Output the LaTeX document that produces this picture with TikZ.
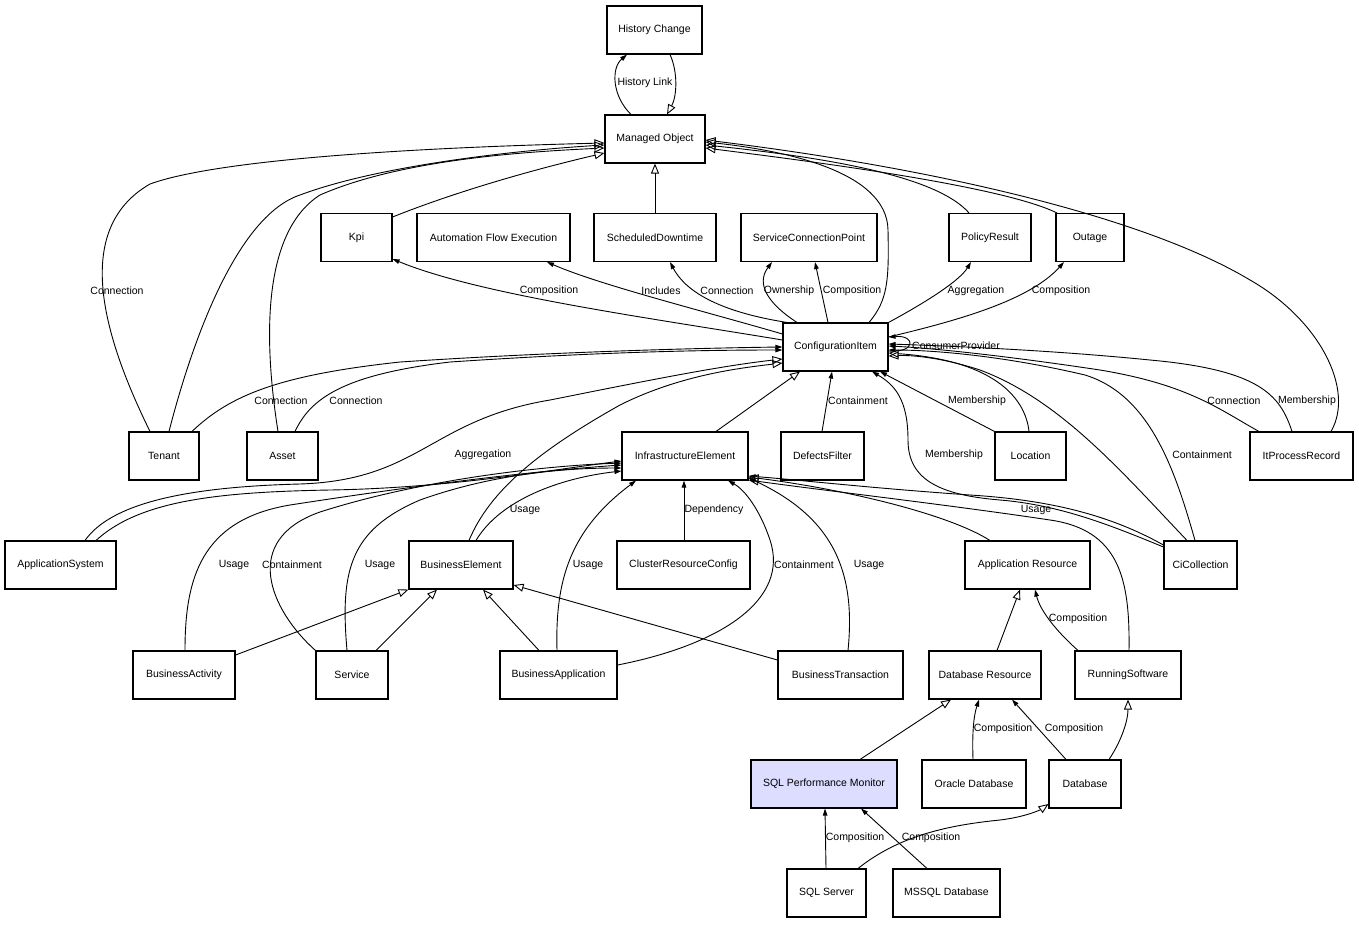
\documentclass[tikz,border=0pt]{standalone}
\usepackage{fontspec}
\setmainfont{Liberation Sans}
\usetikzlibrary{arrows.meta}
\definecolor{monitorblue}{RGB}{221,221,255}

\begin{document}
\begin{tikzpicture}[x=1pt,y=-1pt]
  \tikzstyle{box} = [draw, line width=1.1pt, minimum height=48pt, inner sep=0pt, font=\fontsize{10.5}{12}\selectfont]
  \tikzstyle{lbl} = [inner sep=0pt, font=\fontsize{10.5}{12}\selectfont]
  \tikzstyle{gen} = [line width=0.9pt, -{Triangle[open,length=10pt,width=8pt]}]
  \tikzstyle{assoc} = [line width=0.9pt, -{Triangle[length=7pt,width=4.5pt]}]

  \useasboundingbox (0,0) rectangle (1359,924);

  % classes, row by row
  \node[box, minimum width=95pt] (hc) at (654.5,30) {History Change};
  \node[box, minimum width=100pt] (mo) at (655,139) {Managed Object};

  \node[box, minimum width=71pt] (kpi) at (356.5,237.5) {Kpi};
  \node[box, minimum width=153pt] (afe) at (493.5,237.5) {Automation Flow Execution};
  \node[box, minimum width=122pt] (sd) at (655,237.5) {ScheduledDowntime};
  \node[box, minimum width=136pt] (scp) at (809,237.5) {ServiceConnectionPoint};
  \node[box, minimum width=82pt] (pr) at (990,237.5) {PolicyResult};
  \node[box, minimum width=68pt] (outage) at (1090,237.5) {Outage};

  \node[box, minimum width=105pt] (ci) at (835.5,347) {ConfigurationItem};

  \node[box, minimum width=70pt] (tenant) at (164,456) {Tenant};
  \node[box, minimum width=71pt] (asset) at (282.5,456) {Asset};
  \node[box, minimum width=126pt] (ie) at (685,456) {InfrastructureElement};
  \node[box, minimum width=83pt] (df) at (822.5,456) {DefectsFilter};
  \node[box, minimum width=71pt] (loc) at (1030.5,456) {Location};
  \node[box, minimum width=103pt] (itpr) at (1301.5,456) {ItProcessRecord};

  \node[box, minimum width=111pt] (appsys) at (60.5,565) {ApplicationSystem};
  \node[box, minimum width=104pt] (be) at (461,565) {BusinessElement};
  \node[box, minimum width=133pt] (crc) at (683.5,565) {ClusterResourceConfig};
  \node[box, minimum width=125pt] (ar) at (1027.5,565) {Application Resource};
  \node[box, minimum width=73pt] (cic) at (1200.5,565) {CiCollection};

  \node[box, minimum width=102pt] (bact) at (184,675) {BusinessActivity};
  \node[box, minimum width=72pt] (svc) at (352,675) {Service};
  \node[box, minimum width=117pt] (bapp) at (558.5,675) {BusinessApplication};
  \node[box, minimum width=125pt] (bt) at (840.5,675) {BusinessTransaction};
  \node[box, minimum width=112pt] (dr) at (985,675) {Database Resource};
  \node[box, minimum width=106pt] (rs) at (1128,675) {RunningSoftware};

  \node[box, minimum width=146pt, fill=monitorblue] (spm) at (824,784) {SQL Performance Monitor};
  \node[box, minimum width=104pt] (od) at (974,784) {Oracle Database};
  \node[box, minimum width=72pt] (db) at (1085,784) {Database};

  \node[box, minimum width=79pt] (sqls) at (826.5,893) {SQL Server};
  \node[box, minimum width=107pt] (mssql) at (946.5,893) {MSSQL Database};

  % Managed Object
  \draw[assoc] (mo.north -| 631,0) .. controls (612,96) and (611,68) .. (hc.south -| 627,0);
  \draw[gen] (hc.south -| 670,0) .. controls (678,72) and (677,96) .. (mo.north -| 667,0);
  \draw[gen] (sd) -- (mo);
  \draw[gen] (kpi.east |- 0,217) .. controls (460,190) and (540,168) .. (mo.west |- 0,153);
  \draw[gen] (tenant.north -| 150,0) .. controls (105,340) and (70,230) .. (150,184)
    .. controls (230,155) and (480,146) .. (mo.west |- 0,143);
  \draw[gen] (tenant.north -| 169,0) .. controls (195,330) and (240,215) .. (300,195)
    .. controls (380,165) and (520,150) .. (mo.west |- 0,145);
  \draw[gen] (asset.north -| 278,0) .. controls (262,330) and (265,230) .. (320,195)
    .. controls (400,160) and (520,152) .. (mo.west |- 0,148);
  \draw[gen] (ci.north -| 869,0) .. controls (888,300) and (889,280) .. (888,230)
    .. controls (887,170) and (780,150) .. (mo.east |- 0,142);
  \draw[gen] (pr.north -| 969,0) .. controls (940,180) and (850,160) .. (mo.east |- 0,145);
  \draw[gen] (outage.north -| 1057,0) .. controls (1000,185) and (800,160) .. (mo.east |- 0,148);
  \draw[gen] (itpr.north -| 1331,0) .. controls (1355,390) and (1320,320) .. (1250,280)
    .. controls (1150,220) and (950,170) .. (mo.east |- 0,140);

  % ConfigurationItem, upwards
  \draw[assoc] (ci.west |- 0,340) .. controls (650,318) and (480,295) .. (kpi.east |- 0,259);
  \draw[assoc] (ci.west |- 0,334) .. controls (700,310) and (600,285) .. (afe.south -| 547,0);
  \draw[assoc] (ci.north -| 787,0) .. controls (740,315) and (690,300) .. (sd.south -| 670,0);
  \draw[assoc] (ci.north -| 797,0) .. controls (770,305) and (755,285) .. (scp.south -| 772,0);
  \draw[assoc] (ci.north -| 828,0) -- (scp.south -| 815,0);
  \draw[assoc] (ci.north east) .. controls (930,300) and (960,280) .. (pr.south -| 971,0);
  \draw[assoc] (ci.east |- 0,337) .. controls (960,320) and (1030,300) .. (outage.south -| 1064,0);
  \draw[assoc] (ci.east |- 0,351) .. controls (916,353) and (916,335) .. (ci.east |- 0,337);

  % ConfigurationItem, from the left
  \draw[assoc] (tenant.north -| 192,0) .. controls (230,395) and (280,375) .. (400,362)
    .. controls (550,352) and (700,348) .. (ci.west |- 0,347);
  \draw[assoc] (asset.north -| 295,0) .. controls (310,400) and (340,375) .. (450,362)
    .. controls (600,352) and (700,350) .. (ci.west |- 0,350);
  \draw[gen] (appsys.north -| 85,0) .. controls (110,505) and (180,487) .. (300,484)
    .. controls (420,480) and (430,420) .. (550,400) .. controls (650,380) and (720,366) .. (ci.west |- 0,359);
  \draw[gen] (be.north -| 469,0) .. controls (490,490) and (540,450) .. (620,405)
    .. controls (680,375) and (740,368) .. (ci.west |- 0,363);

  % ConfigurationItem, from below
  \draw[gen] (ie.north -| 716,0) -- (ci.south -| 800,0);
  \draw[assoc] (df.north -| 822,0) -- (ci.south -| 832,0);
  \draw[assoc] (loc.north west) -- (ci.south -| 880,0);
  \draw[gen] (loc.north -| 1029,0) .. controls (1025,395) and (990,360) .. (ci.east |- 0,353);
  \draw[assoc] (cic.west |- 0,547) .. controls (1110,525) and (1060,505) .. (1000,500)
    .. controls (940,495) and (908,480) .. (908,440) .. controls (908,400) and (895,385) .. (ci.south -| 872,0);
  \draw[gen] (cic.north -| 1187,0) .. controls (1120,470) and (1060,400) .. (980,370)
    .. controls (940,357) and (910,355) .. (ci.east |- 0,356);
  \draw[assoc] (cic.north -| 1195,0) .. controls (1175,470) and (1150,395) .. (1085,375)
    .. controls (1000,355) and (930,350) .. (ci.east |- 0,350);
  \draw[assoc] (itpr.north -| 1259,0) .. controls (1220,410) and (1190,385) .. (1100,370)
    .. controls (1000,355) and (930,348) .. (ci.east |- 0,346);
  \draw[assoc] (itpr.north -| 1292,0) .. controls (1280,395) and (1260,370) .. (1150,360)
    .. controls (1050,350) and (950,346) .. (ci.east |- 0,344);

  % InfrastructureElement
  \draw[assoc] (appsys.north -| 96,0) .. controls (140,500) and (220,492) .. (330,490)
    .. controls (450,488) and (550,470) .. (ie.west |- 0,461);
  \draw[assoc] (bact.north -| 185,0) .. controls (185,580) and (200,520) .. (290,505)
    .. controls (400,488) and (520,472) .. (ie.west |- 0,465);
  \draw[assoc] (svc.north west) .. controls (270,610) and (240,540) .. (320,512)
    .. controls (420,480) and (540,466) .. (ie.west |- 0,463);
  \draw[assoc] (svc.north -| 347,0) .. controls (340,570) and (350,530) .. (420,500)
    .. controls (490,475) and (560,468) .. (ie.west |- 0,468);
  \draw[assoc] (be.north -| 476,0) .. controls (500,500) and (560,478) .. (ie.west |- 0,471);
  \draw[assoc] (bapp.north -| 557,0) .. controls (555,580) and (570,530) .. (ie.south -| 636,0);
  \draw[assoc] (crc.north -| 684,0) -- (ie.south -| 684,0);
  \draw[assoc] (bapp.east |- 0,665) .. controls (720,645) and (790,600) .. (770,540)
    .. controls (760,510) and (745,490) .. (ie.south -| 728,0);
  \draw[assoc] (bt.north -| 848,0) .. controls (855,580) and (840,520) .. (ie.east |- 0,478);
  \draw[gen] (ar.north -| 990,0) .. controls (950,515) and (850,490) .. (ie.east |- 0,477);
  \draw[gen] (rs.north -| 1129,0) .. controls (1130,580) and (1120,530) .. (1050,520)
    .. controls (950,505) and (820,490) .. (ie.east |- 0,480);
  \draw[assoc] (cic.west |- 0,545) .. controls (1110,515) and (1050,500) .. (970,495)
    .. controls (870,488) and (800,480) .. (ie.east |- 0,476);

  % BusinessElement
  \draw[gen] (bact.east |- 0,655) -- (be.south west);
  \draw[gen] (svc.north -| 376,0) -- (be.south -| 437,0);
  \draw[gen] (bapp.north -| 539,0) -- (be.south -| 483,0);
  \draw[gen] (bt.west |- 0,660) -- (be.east |- 0,585);

  % resources and databases
  \draw[gen] (dr.north -| 997,0) -- (ar.south -| 1020,0);
  \draw[assoc] (rs.north -| 1078,0) .. controls (1055,630) and (1040,610) .. (ar.south -| 1035,0);
  \draw[gen] (spm.north -| 860,0) -- (dr.south -| 951,0);
  \draw[assoc] (od.north -| 973,0) .. controls (972,730) and (974,715) .. (dr.south -| 979,0);
  \draw[assoc] (db.north -| 1066,0) -- (dr.south -| 1012,0);
  \draw[gen] (db.north -| 1109,0) .. controls (1122,740) and (1128,720) .. (rs.south -| 1128,0);
  \draw[assoc] (sqls.north -| 826,0) -- (spm.south -| 825,0);
  \draw[assoc] (mssql.north -| 927,0) -- (spm.south -| 861,0);
  \draw[gen] (sqls.north -| 858,0) .. controls (900,835) and (950,825) .. (1000,820)
    .. controls (1025,817) and (1040,810) .. (db.west |- 0,804);

  % edge labels
  \node[lbl] (l1) at (645,83) {History Link};
  \node[lbl] (l2) at (117,291) {Connection};
  \node[lbl] (l3) at (549,291) {Composition};
  \node[lbl] (l4) at (661,291) {Includes};
  \node[lbl] (l5) at (727,291) {Connection};
  \node[lbl] (l6) at (789,291) {Ownership};
  \node[lbl] (l7) at (852,291) {Composition};
  \node[lbl] (l8) at (976,291) {Aggregation};
  \node[lbl] (l9) at (1061,291) {Composition};
  \node[lbl] (l10) at (956,346) {ConsumerProvider};
  \node[lbl] (l11) at (281,401) {Connection};
  \node[lbl] (l12) at (356,401) {Connection};
  \node[lbl] (l13) at (858,401) {Containment};
  \node[lbl] (l14) at (977,401) {Membership};
  \node[lbl] (l15) at (1234,401) {Connection};
  \node[lbl] (l16) at (1307,401) {Membership};
  \node[lbl] (l17) at (483,455) {Aggregation};
  \node[lbl] (l18) at (954,455) {Membership};
  \node[lbl] (l19) at (1202,455) {Containment};
  \node[lbl] (l20) at (525,510) {Usage};
  \node[lbl] (l21) at (714,510) {Dependency};
  \node[lbl] (l22) at (1036,510) {Usage};
  \node[lbl] (l23) at (234,565) {Usage};
  \node[lbl] (l24) at (292,565) {Containment};
  \node[lbl] (l25) at (380,565) {Usage};
  \node[lbl] (l26) at (588,565) {Usage};
  \node[lbl] (l27) at (804,565) {Containment};
  \node[lbl] (l28) at (869,565) {Usage};
  \node[lbl] (l29) at (1078,619) {Composition};
  \node[lbl] (l30) at (1003,729) {Composition};
  \node[lbl] (l31) at (1074,729) {Composition};
  \node[lbl] (l32) at (855,838) {Composition};
  \node[lbl] (l33) at (931,838) {Composition};

\end{tikzpicture}
\end{document}
